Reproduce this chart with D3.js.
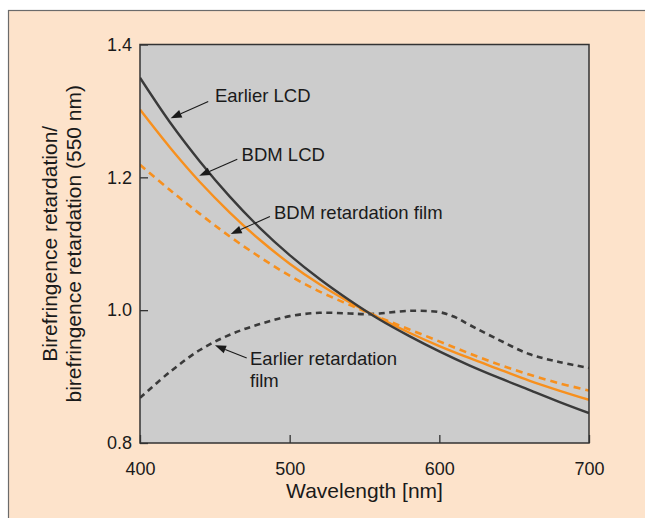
<!DOCTYPE html>
<html>
<head>
<meta charset="utf-8">
<script src="https://cdn.jsdelivr.net/npm/d3@7"></script>
<style>
  html, body { margin: 0; padding: 0; background: #ffffff; }
  svg { display: block; }
  text { font-family: "Liberation Sans", Arial, Helvetica, sans-serif; fill: #1a1a1a; }
</style>
</head>
<body>
<svg id="chart" width="645" height="518"></svg>
<script>
// ---- data ----
const wavelengths = [400, 420, 440, 460, 480, 500, 520, 540, 560, 580, 600, 620, 640, 660, 680, 700];
const earlierLCD   = [1.350, 1.283, 1.224, 1.171, 1.124, 1.083, 1.047, 1.015, 0.986, 0.961, 0.938, 0.917, 0.898, 0.880, 0.862, 0.845];
const bdmLCD       = [1.302, 1.245, 1.193, 1.147, 1.106, 1.070, 1.039, 1.012, 0.988, 0.966, 0.946, 0.928, 0.911, 0.894, 0.879, 0.865];
const bdmFilm      = [1.219, 1.181, 1.145, 1.111, 1.080, 1.052, 1.028, 1.008, 0.989, 0.971, 0.953, 0.935, 0.918, 0.903, 0.890, 0.879];
const earlierFilmWl = [400, 420, 440, 460, 480, 500, 520, 540, 550, 560, 580, 600, 610, 620, 640, 660, 680, 700];
const earlierFilm   = [0.868, 0.907, 0.940, 0.963, 0.979, 0.991, 0.996, 0.995, 0.994, 0.995, 0.999, 0.997, 0.990, 0.978, 0.955, 0.934, 0.922, 0.913];

const xTicks = [400, 500, 600, 700];
const yTicks = [0.8, 1.0, 1.2, 1.4];

const annotations = [
  { lines: ["Earlier LCD"], text: [450.1, 1.3137], from: [445.6, 1.314], tip: [420.5, 1.289] },
  { lines: ["BDM LCD"], text: [467.9, 1.2252], from: [465.0, 1.2273], tip: [439.6, 1.2022] },
  { lines: ["BDM retardation film"], text: [489.5, 1.137], from: [486.8, 1.141], tip: [460.6, 1.1145] },
  { lines: ["Earlier retardation", "film"], text: [473.5, 0.918], from: [471.3, 0.928], tip: [450.1, 0.947] }
];

// ---- drawing ----
const svg = d3.select("#chart");
const W = 645, H = 518;
const plot = { left: 140, right: 589, top: 44.5, bottom: 443 };

const x = d3.scaleLinear().domain([400, 700]).range([plot.left, plot.right]);
const y = d3.scaleLinear().domain([0.8, 1.4]).range([plot.bottom, plot.top]);

// outer peach panel
svg.append("rect").attr("x", 8.5).attr("y", 10.5).attr("width", W).attr("height", H)
  .attr("fill", "#fde3cb").attr("stroke", "#6b6b6b").attr("stroke-width", 1.2);

// plot background
svg.append("rect").attr("x", plot.left).attr("y", plot.top)
  .attr("width", plot.right - plot.left).attr("height", plot.bottom - plot.top)
  .attr("fill", "#cccccc");

svg.append("clipPath").attr("id", "clip").append("rect")
  .attr("x", plot.left).attr("y", plot.top)
  .attr("width", plot.right - plot.left).attr("height", plot.bottom - plot.top);

// axes
const xAxis = d3.axisBottom(x).tickValues(xTicks).tickFormat(d3.format("d"))
  .tickSizeInner(-8).tickSizeOuter(0).tickPadding(19);
const yAxis = d3.axisLeft(y).tickValues(yTicks).tickFormat(d3.format(".1f"))
  .tickSizeInner(-8).tickSizeOuter(0).tickPadding(8);

const gx = svg.append("g").attr("transform", `translate(0,${plot.bottom})`).call(xAxis);
const gy = svg.append("g").attr("transform", `translate(${plot.left},0)`).call(yAxis);
[gx, gy].forEach(g => {
  g.select(".domain").remove();
  g.selectAll(".tick line").attr("stroke", "#333").attr("stroke-width", 1.3);
  g.selectAll(".tick text").attr("font-size", 18)
    .style("font-family", '"Liberation Sans", Arial, sans-serif').attr("fill", "#1a1a1a");
});

// lines
const lineGen = d3.line().curve(d3.curveCatmullRom.alpha(0.5)).x(d => x(d[0])).y(d => y(d[1]));
const series = [
  { wl: earlierFilmWl, v: earlierFilm, color: "#3a3a3a", dash: "6,4.5", width: 2.6 },
  { wl: wavelengths, v: bdmFilm, color: "#f7901e", dash: "7,5", width: 2.6 },
  { wl: wavelengths, v: bdmLCD, color: "#f7901e", dash: null, width: 2.4 },
  { wl: wavelengths, v: earlierLCD, color: "#3a3a3a", dash: null, width: 2.4 }
];
const gLines = svg.append("g").attr("clip-path", "url(#clip)");
series.forEach(s => {
  gLines.append("path")
    .datum(s.wl.map((w, i) => [w, s.v[i]]))
    .attr("d", lineGen)
    .attr("fill", "none")
    .attr("stroke", s.color)
    .attr("stroke-width", s.width)
    .attr("stroke-dasharray", s.dash);
});

// plot frame
svg.append("rect").attr("x", plot.left).attr("y", plot.top)
  .attr("width", plot.right - plot.left).attr("height", plot.bottom - plot.top)
  .attr("fill", "none").attr("stroke", "#333").attr("stroke-width", 1.5);

// annotations with arrows
const gAnn = svg.append("g");
annotations.forEach(a => {
  const x1 = x(a.from[0]), y1 = y(a.from[1]);
  const x2 = x(a.tip[0]), y2 = y(a.tip[1]);
  const ang = Math.atan2(y2 - y1, x2 - x1);
  const L = 11, Wd = 4;
  const bx = x2 - L * Math.cos(ang), by = y2 - L * Math.sin(ang);
  gAnn.append("line").attr("x1", x1).attr("y1", y1).attr("x2", bx).attr("y2", by)
    .attr("stroke", "#1a1a1a").attr("stroke-width", 1.1);
  const px = -Math.sin(ang), py = Math.cos(ang);
  gAnn.append("path")
    .attr("d", `M${x2},${y2}L${bx + px * Wd},${by + py * Wd}L${bx - px * Wd},${by - py * Wd}Z`)
    .attr("fill", "#1a1a1a");
  const t = gAnn.append("text").attr("x", x(a.text[0])).attr("y", y(a.text[1]))
    .attr("font-size", 18.5);
  a.lines.forEach((ln, i) => {
    t.append("tspan").attr("x", x(a.text[0])).attr("dy", i === 0 ? 0 : 22.3).text(ln);
  });
});

// axis titles
const cx = (plot.left + plot.right) / 2, cy = (plot.top + plot.bottom) / 2;
svg.append("text").attr("x", cx).attr("y", 498).attr("text-anchor", "middle")
  .attr("font-size", 21).text("Wavelength [nm]");
svg.append("text").attr("transform", `translate(57,${cy}) rotate(-90)`)
  .attr("text-anchor", "middle").attr("font-size", 21).text("Birefringence retardation/");
svg.append("text").attr("transform", `translate(81,${cy}) rotate(-90)`)
  .attr("text-anchor", "middle").attr("font-size", 21).text("birefringence retardation (550 nm)");
</script>
</body>
</html>
